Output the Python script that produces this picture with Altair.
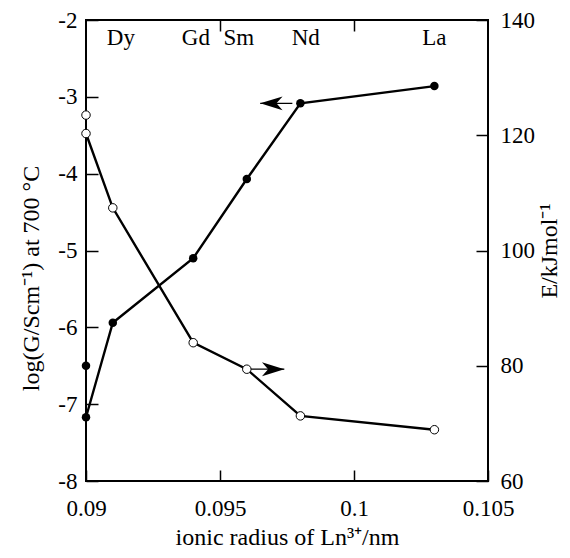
import altair as alt
import pandas as pd

# ---- data ----
radius_g = [0.090, 0.090, 0.091, 0.094, 0.096, 0.098, 0.103]
log_g = [-6.50, -7.17, -5.94, -5.10, -4.07, -3.085, -2.86]
g_joined = [False, True, True, True, True, True, True]

radius_e = [0.090, 0.090, 0.091, 0.094, 0.096, 0.098, 0.103]
energy = [123.5, 120.3, 107.4, 84.0, 79.4, 71.3, 68.9]
e_joined = [False, True, True, True, True, True, True]

elements = ["Dy", "Gd", "Sm", "Nd", "La"]
element_x = [0.0913, 0.0941, 0.0957, 0.0982, 0.1030]

arrow_g_x = [0.0977, 0.0965]   # tail, tip (points to left axis)
arrow_g_y = [-3.085]
arrow_e_x = [0.0960, 0.0974]   # tail, tip (points to right axis)
arrow_e_y = [79.4]

x_ticks = [0.09, 0.095, 0.1, 0.105]
x_top_ticks = [0.095, 0.1]
g_ticks = [-8, -7, -6, -5, -4, -3, -2]
e_ticks = [60, 80, 100, 120, 140]

FONT = "Liberation Serif"
FS = 23
TFS = 24

g_df = pd.DataFrame({"r": radius_g, "g": log_g, "j": g_joined})
e_df = pd.DataFrame({"r": radius_e, "e": energy, "j": e_joined})
lab_df = pd.DataFrame({"r": element_x, "name": elements})
ag_df = pd.DataFrame({"r": [arrow_g_x[0]], "r2": [arrow_g_x[1]], "g": arrow_g_y})
ae_df = pd.DataFrame({"r": [arrow_e_x[0]], "r2": [arrow_e_x[1]], "e": arrow_e_y})

x_scale = alt.Scale(domain=[0.09, 0.105], nice=False, zero=False)
g_scale = alt.Scale(domain=[-8, -2], nice=False, zero=False)
e_scale = alt.Scale(domain=[60, 140], nice=False, zero=False)

common = dict(grid=False, domain=False, tickColor="black", tickWidth=1.5,
              labelFont=FONT, labelFontSize=FS, labelColor="black",
              titleFont=FONT, titleFontSize=TFS, titleFontWeight="normal",
              titleColor="black", labelOverlap=False)

ax_bottom = alt.Axis(values=x_ticks, labelExpr="datum.value", labelFlush=False,
                     tickSize={"expr": "-11"}, labelPadding=27,
                     title="ionic radius of Ln³⁺/nm", titlePadding=5, **common)
ax_top = alt.Axis(orient="top", values=x_top_ticks, labels=False,
                  tickSize={"expr": "-11"}, title=None, **common)
ax_left = alt.Axis(values=g_ticks, labelExpr="datum.value",
                   tickSize={"expr": "-12"}, labelPadding=21,
                   title="log(G/Scm⁻¹) at 700 °C", titlePadding=14, titleY=258,
                   **common)
ax_right = alt.Axis(orient="right", values=e_ticks, labelExpr="datum.value",
                    tickSize={"expr": "-12"}, labelPadding=24,
                    title="E/kJmol⁻¹", titlePadding=3, titleAngle=270,
                    titleBaseline="top", **common)

xb = alt.X("r:Q", scale=x_scale, axis=ax_bottom)
xt = alt.X("r:Q", scale=x_scale, axis=ax_top)
yg = alt.Y("g:Q", scale=g_scale, axis=ax_left)
ye = alt.Y("e:Q", scale=e_scale, axis=ax_right)

# ---- left (conductivity) group ----
g_line = alt.Chart(g_df).transform_filter("datum.j").mark_line(
    color="black", strokeWidth=2.4).encode(x=xb, y=yg)
g_pts = alt.Chart(g_df).mark_point(
    shape="circle", filled=True, color="black", size=72, opacity=1).encode(x=xb, y=yg)
g_shaft = alt.Chart(ag_df).mark_rule(color="black", strokeWidth=1.2).encode(
    x=xb, x2="r2:Q", y=yg)
g_head = alt.Chart(ag_df).mark_point(
    shape="M0,0 L2,-0.62 L1.45,0 L2,0.62 Z", filled=True, color="black",
    size=500, opacity=1, strokeWidth=0).encode(
    x=alt.X("r2:Q", scale=x_scale, axis=ax_bottom), y=yg)
labels = alt.Chart(lab_df).mark_text(
    font=FONT, fontSize=FS, color="black", baseline="middle").encode(
    x=xb, y=alt.value(18), text="name:N")

left = alt.layer(g_line, g_pts, g_shaft, g_head, labels)

# ---- right (activation energy) group ----
e_line = alt.Chart(e_df).transform_filter("datum.j").mark_line(
    color="black", strokeWidth=2.4).encode(x=xt, y=ye)
e_pts = alt.Chart(e_df).mark_point(
    shape="circle", filled=True, fill="white", stroke="black", strokeWidth=1,
    size=72, opacity=1).encode(x=xt, y=ye)
e_shaft = alt.Chart(ae_df).mark_rule(color="black", strokeWidth=1.2).encode(
    x=xt, x2="r2:Q", y=ye)
e_head = alt.Chart(ae_df).mark_point(
    shape="M0,0 L-2,-0.62 L-1.45,0 L-2,0.62 Z", filled=True, color="black",
    size=500, opacity=1, strokeWidth=0).encode(
    x=alt.X("r2:Q", scale=x_scale, axis=ax_top), y=ye)

right = alt.layer(e_line, e_shaft, e_head, e_pts)

chart = alt.layer(left, right).resolve_scale(y="independent").resolve_axis(
    x="independent").properties(
    width=402, height=461,
    autosize=alt.AutoSizeParams(type="none"),
    padding={"left": 78, "top": 12, "right": 74, "bottom": 69},
    background="white",
).configure_view(stroke="black", strokeWidth=2).configure_axis(
    labelFont=FONT, labelFontSize=FS, titleFont=FONT
).configure_text(font=FONT)

chart.save("out.html", embed_options={"renderer": "svg", "actions": False})
